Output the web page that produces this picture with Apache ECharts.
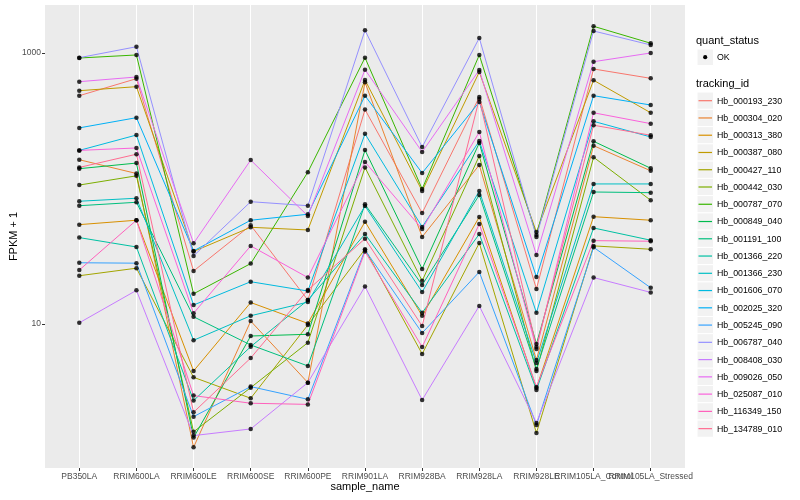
<!DOCTYPE html>
<html>
<head>
<meta charset="utf-8">
<script src="https://cdn.jsdelivr.net/npm/echarts@6/dist/echarts.min.js"></script>
<style>
html,body{margin:0;padding:0;background:#fff;}
#chart{width:800px;height:500px;}
</style>
</head>
<body>
<div id="chart"></div>
<script>
const samples = ['PB350LA','RRIM600LA','RRIM600LE','RRIM600SE','RRIM600PE','RRIM901LA','RRIM928BA','RRIM928LA','RRIM928LE','RRIM105LA_Control','RRIM105LA_Stressed'];

const Hb_000193_230 = [484, 646, 24.6, 53.5, 15.0, 382, 65.9, 473, 18.1, 762, 650];
const Hb_000304_020 = [163, 129, 1.23, 10.5, 3.69, 608, 43.9, 149, 5.42, 207, 135];
const Hb_000313_380 = [54.1, 58.3, 4.50, 14.4, 10.1, 56.9, 11.5, 61.6, 3.37, 61.9, 58.3];
const Hb_000387_080 = [527, 564, 34.3, 51.7, 49.4, 632, 95.9, 724, 47.7, 629, 362];
const Hb_000427_110 = [22.7, 25.8, 4.04, 2.83, 9.83, 35.6, 6.01, 39.6, 1.57, 37.7, 35.6];
const Hb_000442_030 = [106, 124, 1.60, 3.39, 7.28, 143, 20.8, 174, 4.50, 170, 81.8];
const Hb_000787_070 = [918, 967, 16.7, 27.9, 132, 923, 99.1, 967, 45.4, 1574, 1180];
const Hb_000849_040 = [140, 154, 1.45, 8.15, 8.39, 192, 25.5, 217, 7.12, 223, 141];
const Hb_001191_100 = [74.6, 79.1, 11.3, 7.00, 4.90, 76.4, 19.4, 89.5, 4.66, 94.2, 93.1];
const Hb_001366_220 = [43.4, 37.0, 2.72, 6.80, 15.0, 46.1, 12.1, 46.1, 3.26, 51.1, 41.5];
const Hb_001366_230 = [80.5, 84.7, 7.58, 11.5, 14.5, 74.3, 17.2, 95.9, 5.15, 108, 108];
const Hb_001606_070 = [191, 248, 13.8, 20.5, 17.5, 253, 52.0, 224, 12.1, 313, 240];
const Hb_002025_320 = [280, 333, 34.6, 58.3, 64.5, 484, 130, 435, 22.2, 484, 413];
const Hb_005245_090 = [28.3, 28.1, 2.07, 3.45, 2.78, 35.2, 8.58, 24.2, 1.80, 36.8, 18.5];
const Hb_006787_040 = [923, 1112, 31.8, 79.9, 74.6, 1471, 202, 1291, 43.9, 1453, 1146];
const Hb_008408_030 = [10.2, 17.7, 1.50, 1.68, 3.69, 18.9, 2.75, 13.6, 1.86, 22.0, 17.1];
const Hb_009026_050 = [614, 665, 39.4, 162, 62.7, 753, 186, 749, 32.3, 862, 1000];
const Hb_025087_010 = [191, 199, 12.0, 37.7, 22.0, 157, 50.2, 261, 6.54, 362, 301];
const Hb_116349_150 = [25.0, 58.3, 2.96, 2.60, 2.55, 34.2, 6.76, 54.7, 3.43, 41.2, 40.8];
const Hb_134789_010 = [143, 179, 2.23, 5.61, 17.8, 42.6, 9.66, 458, 6.76, 293, 247];

const trackingIds = ['Hb_000193_230','Hb_000304_020','Hb_000313_380','Hb_000387_080','Hb_000427_110','Hb_000442_030','Hb_000787_070','Hb_000849_040','Hb_001191_100','Hb_001366_220','Hb_001366_230','Hb_001606_070','Hb_002025_320','Hb_005245_090','Hb_006787_040','Hb_008408_030','Hb_009026_050','Hb_025087_010','Hb_116349_150','Hb_134789_010'];
const seriesValues = [Hb_000193_230, Hb_000304_020, Hb_000313_380, Hb_000387_080, Hb_000427_110, Hb_000442_030, Hb_000787_070, Hb_000849_040, Hb_001191_100, Hb_001366_220, Hb_001366_230, Hb_001606_070, Hb_002025_320, Hb_005245_090, Hb_006787_040, Hb_008408_030, Hb_009026_050, Hb_025087_010, Hb_116349_150, Hb_134789_010];
const colors = ['#F8766D','#EA8331','#D89000','#C09B00','#A3A500','#7CAE00','#39B600','#00BB4E','#00BF7D','#00C1A3','#00BFC4','#00BAE0','#00B0F6','#35A2FF','#9590FF','#C77CFF','#E76BF3','#FA62DB','#FF62BC','#FF6C91'];
const yLabels = [10, 1000];
const quantStatus = ['OK'];

const FONT = "'Liberation Sans', Arial, sans-serif";
const chart = echarts.init(document.getElementById('chart'), null, {renderer: 'canvas'});

const idx = samples.map((s, i) => i);
// labels split over two axes so that overlapping neighbours are all drawn, as in the reference
const labelsA = idx.filter(i => i !== 9);
const labelsB = [9];

const lineSeries = seriesValues.map((vals, k) => ({
  name: trackingIds[k],
  type: 'line',
  data: vals.map((v, i) => [i, v]),
  showSymbol: false,
  lineStyle: {color: colors[k], width: 1},
  itemStyle: {color: colors[k]},
  silent: true,
  z: 2
}));
// vertical grid lines at each sample position
lineSeries[0].markLine = {
  silent: true, z: 1, symbol: 'none', animation: false,
  label: {show: false},
  lineStyle: {color: '#fff', width: 1, type: 'solid'},
  emphasis: {disabled: true},
  data: idx.map(i => ({xAxis: i}))
};
const pointSeries = {
  name: 'OK',
  type: 'scatter',
  data: seriesValues.flatMap(vals => vals.map((v, i) => [i, v])),
  symbol: 'circle',
  symbolSize: 4.5,
  itemStyle: {color: '#000'},
  silent: true,
  z: 3
};

// legend drawn as graphic
const legendX = 697;
const rowH = 17.26;
const firstRow = 100.7;
const graphics = [];
graphics.push({type: 'text', left: 696, top: 35, style: {text: 'quant_status', font: '11px ' + FONT, fill: '#000'}});
graphics.push({type: 'rect', shape: {x: legendX, y: 49, width: 16.5, height: 16.5}, style: {fill: '#F2F2F2', stroke: '#fff', lineWidth: 1}});
graphics.push({type: 'circle', shape: {cx: legendX + 8.2, cy: 57.2, r: 2.1}, style: {fill: '#000'}});
graphics.push({type: 'text', x: 717, y: 57.5, style: {text: quantStatus[0], font: '8.8px ' + FONT, fill: '#000', verticalAlign: 'middle'}});
graphics.push({type: 'text', left: 696, top: 78.5, style: {text: 'tracking_id', font: '11px ' + FONT, fill: '#000'}});
trackingIds.forEach((id, i) => {
  const cy = firstRow + i * rowH;
  graphics.push({type: 'rect', shape: {x: legendX, y: cy - rowH / 2, width: 16.5, height: rowH}, style: {fill: '#F2F2F2', stroke: '#fff', lineWidth: 1}, z: 1});
  graphics.push({type: 'line', shape: {x1: legendX + 1.5, y1: cy, x2: legendX + 15, y2: cy}, style: {stroke: colors[i], lineWidth: 1.2}, z: 2});
  graphics.push({type: 'text', x: 717, y: cy + 0.5, style: {text: id, font: '8.8px ' + FONT, fill: '#000', verticalAlign: 'middle'}, z: 2});
});

const labelStyle = {formatter: v => samples[Math.round(v)], fontFamily: FONT, fontSize: 8.5, color: '#4D4D4D', margin: 4, showMinLabel: true, showMaxLabel: true, hideOverlap: false};

chart.setOption({
  animation: false,
  backgroundColor: '#fff',
  grid: {left: 45, right: 115, top: 5, bottom: 32, show: true, backgroundColor: '#EBEBEB', borderWidth: 0, containLabel: false, outerBoundsMode: 'none'},
  xAxis: [{
    type: 'value', min: -0.6, max: 10.6,
    name: 'sample_name', nameLocation: 'middle', nameGap: 13.5, nameMoveOverlap: false,
    nameTextStyle: {fontFamily: FONT, fontSize: 11, color: '#000'},
    axisLine: {show: false, onZero: false},
    axisTick: {show: true, customValues: idx, length: 3, lineStyle: {color: '#333', width: 1}},
    axisLabel: Object.assign({customValues: labelsA}, labelStyle),
    splitLine: {show: false}
  }, {
    type: 'value', min: -0.6, max: 10.6, position: 'bottom', offset: 0,
    axisLine: {show: false, onZero: false},
    axisTick: {show: false},
    axisLabel: Object.assign({customValues: labelsB}, labelStyle),
    splitLine: {show: false}
  }],
  yAxis: {
    type: 'log', logBase: 10, min: 0.865, max: 2260,
    name: 'FPKM + 1', nameLocation: 'middle', nameGap: 26, nameRotate: 90, nameMoveOverlap: false,
    nameTextStyle: {fontFamily: FONT, fontSize: 11, color: '#000'},
    axisLine: {show: false, onZero: false},
    axisTick: {show: true, customValues: yLabels, length: 3, lineStyle: {color: '#333', width: 1}},
    axisLabel: {customValues: yLabels, fontFamily: FONT, fontSize: 8.5, color: '#4D4D4D', margin: 4,
      formatter: v => { const m = yLabels.find(t => Math.abs(v - t) / t < 0.01); return m ? String(m) : ''; }},
    splitLine: {show: true, showMinLine: false, showMaxLine: false, lineStyle: {color: '#fff', width: 1}},
    minorTick: {show: false}
  },
  series: lineSeries.concat([pointSeries]),
  graphic: graphics
});
</script>
</body>
</html>
